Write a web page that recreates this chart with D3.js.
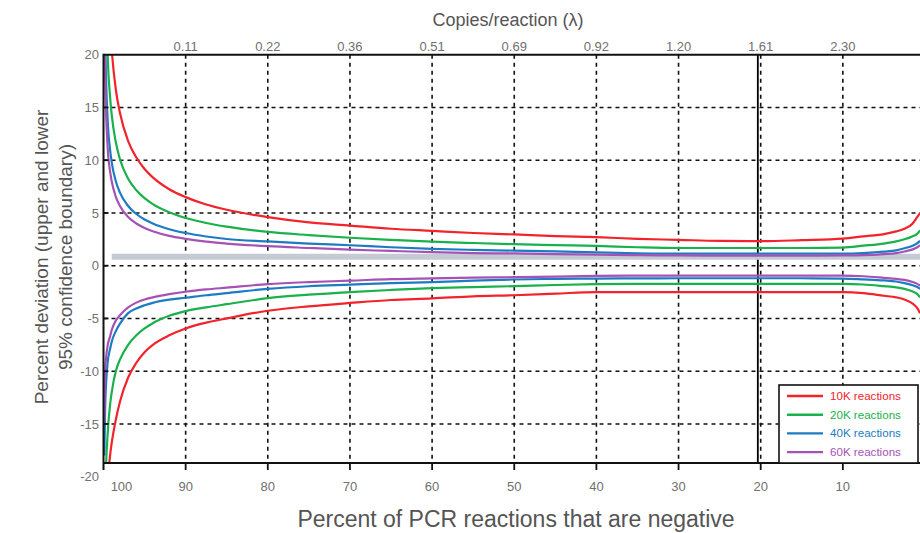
<!DOCTYPE html>
<html><head><meta charset="utf-8">
<script src="https://cdn.jsdelivr.net/npm/d3@7"></script>
<style>
body{margin:0;background:#fff;}
svg{display:block;font-family:"Liberation Sans",Arial,Helvetica,sans-serif;}
</style>
</head><body>
<svg id="chart" width="920" height="533"></svg>
<script>
// ---- data ----
const pctNeg = [99.9, 99.8, 99.5, 99.2, 99, 98.5, 98, 97, 96, 95, 94, 92, 90, 87.5, 85, 80, 75, 70, 65, 60, 55, 50, 45, 40, 35, 30, 25, 20, 15, 10, 7.5, 5, 3.5, 2.5, 1.5, 1, 0.6];

const upper10K = [65, 46, 29, 23, 20.5, 16.7, 14.5, 11.8, 10.25, 9.17, 8.37, 7.25, 6.5, 5.8, 5.3, 4.6, 4.1, 3.8, 3.5, 3.3, 3.1, 2.96, 2.8, 2.7, 2.55, 2.45, 2.35, 2.32, 2.42, 2.56, 2.78, 3.0, 3.25, 3.5, 4.0, 4.55, 5.0];
const upper20K = [45, 32, 20.2, 16, 14.3, 11.7, 10.1, 8.25, 7.15, 6.4, 5.84, 5.06, 4.52, 4.05, 3.7, 3.2, 2.9, 2.65, 2.45, 2.28, 2.15, 2.04, 1.95, 1.87, 1.75, 1.68, 1.68, 1.68, 1.68, 1.72, 1.9, 2.1, 2.3, 2.5, 2.8, 3.0, 3.35];
const upper40K = [31, 21.9, 13.9, 11, 9.8, 8.0, 6.93, 5.66, 4.9, 4.38, 4.0, 3.46, 3.1, 2.77, 2.53, 2.3, 2.1, 1.94, 1.75, 1.6, 1.5, 1.43, 1.35, 1.26, 1.18, 1.14, 1.14, 1.14, 1.14, 1.14, 1.2, 1.33, 1.45, 1.65, 1.9, 2.1, 2.35];
const upper60K = [25, 17.9, 11.3, 8.95, 8.0, 6.53, 5.66, 4.62, 4.0, 3.58, 3.27, 2.83, 2.55, 2.28, 2.1, 1.85, 1.68, 1.52, 1.4, 1.28, 1.2, 1.16, 1.1, 1.05, 1.0, 0.97, 0.95, 0.95, 0.95, 0.97, 1.0, 1.1, 1.2, 1.35, 1.55, 1.72, 1.95];

const lower10K = [-42, -31, -21, -18, -16.8, -14.6, -12.9, -10.6, -9.2, -8.2, -7.5, -6.6, -5.95, -5.4, -5.0, -4.27, -3.85, -3.53, -3.25, -3.1, -2.9, -2.8, -2.65, -2.5, -2.5, -2.5, -2.5, -2.5, -2.5, -2.5, -2.6, -2.85, -3.0, -3.2, -3.6, -3.95, -4.5];
const lower20K = [-30, -22, -16, -13.2, -12, -10, -8.9, -7.5, -6.6, -5.95, -5.45, -4.75, -4.3, -3.95, -3.65, -3.08, -2.75, -2.5, -2.3, -2.13, -2.03, -1.94, -1.83, -1.75, -1.72, -1.72, -1.72, -1.72, -1.72, -1.72, -1.78, -1.94, -2.05, -2.2, -2.45, -2.65, -3.0];
const lower40K = [-18, -13.5, -9.2, -7.9, -7.2, -6.2, -5.5, -4.5, -4.05, -3.75, -3.52, -3.22, -3.04, -2.8, -2.6, -2.2, -1.95, -1.8, -1.65, -1.55, -1.42, -1.31, -1.25, -1.22, -1.2, -1.19, -1.19, -1.19, -1.19, -1.22, -1.3, -1.4, -1.5, -1.65, -1.85, -2.0, -2.2];
const lower60K = [-15, -10, -7.6, -6.7, -6.1, -5.2, -4.7, -3.95, -3.5, -3.2, -3.0, -2.7, -2.47, -2.25, -2.08, -1.74, -1.55, -1.42, -1.27, -1.2, -1.13, -1.09, -1.03, -0.97, -0.94, -0.94, -0.94, -0.94, -0.94, -0.94, -1.0, -1.15, -1.25, -1.35, -1.55, -1.7, -1.9];

const seriesNames = ["10K reactions", "20K reactions", "40K reactions", "60K reactions"];
const seriesColors = ["#f2232b", "#19b14b", "#1b7cc2", "#a652b4"];

const xTicks = [90, 80, 70, 60, 50, 40, 30, 20, 10];
const xTickLabels = ["90", "80", "70", "60", "50", "40", "30", "20", "10"];
const lambdaLabels = ["0.11", "0.22", "0.36", "0.51", "0.69", "0.92", "1.20", "1.61", "2.30"];
const yTicks = [20, 15, 10, 5, 0, -5, -10, -15, -20];
const yGrid = [15, 10, 5, 0, -5, -10, -15];
const bandLevel = 0.85;
const bandStartPct = 99;
const markerPct = 20.35;

// ---- layout ----
const W = 920, H = 533;
const plotLeft = 103.5, plotTop = 54.7, plotBottom = 463;
const x = d3.scaleLinear().domain([100, 0]).range([103.5, 925]);
const y = d3.scaleLinear().domain([20, -20]).range([54.7, 476.7]);

const svg = d3.select("#chart");
const tickColor = "#707070", titleColor = "#555";

svg.append("defs").append("clipPath").attr("id", "clip")
  .append("rect").attr("x", plotLeft).attr("y", plotTop)
  .attr("width", W - plotLeft).attr("height", plotBottom - plotTop);

// grid
const grid = svg.append("g");
grid.selectAll("line.v").data(xTicks).join("line")
  .attr("x1", d => x(d)).attr("x2", d => x(d))
  .attr("y1", plotTop).attr("y2", plotBottom)
  .attr("stroke", "#111").attr("stroke-width", 1.6).attr("stroke-dasharray", "4,4");
grid.selectAll("line.h").data(yGrid).join("line")
  .attr("x1", plotLeft).attr("x2", W)
  .attr("y1", d => y(d)).attr("y2", d => y(d))
  .attr("stroke", "#111").attr("stroke-width", 1.6).attr("stroke-dasharray", "4,4");

// solid marker line
svg.append("line")
  .attr("x1", x(markerPct)).attr("x2", x(markerPct))
  .attr("y1", plotTop).attr("y2", plotBottom)
  .attr("stroke", "#000").attr("stroke-width", 1.8);

// gray band
svg.append("line")
  .attr("x1", x(bandStartPct)).attr("x2", W)
  .attr("y1", y(bandLevel)).attr("y2", y(bandLevel))
  .attr("stroke", "#c4cbd5").attr("stroke-width", 6);

// curves
const uppers = [upper10K, upper20K, upper40K, upper60K];
const lowers = [lower10K, lower20K, lower40K, lower60K];
const line = d3.line().x(d => x(d[0])).y(d => y(d[1])).curve(d3.curveMonotoneX);
const curves = svg.append("g").attr("clip-path", "url(#clip)");
seriesNames.forEach((name, i) => {
  [uppers[i], lowers[i]].forEach(vals => {
    const pts = pctNeg.map((p, j) => [p, vals[j]]);
    curves.append("path").datum(pts)
      .attr("d", line).attr("fill", "none")
      .attr("stroke", seriesColors[i]).attr("stroke-width", 2.2)
      .attr("stroke-linejoin", "round");
  });
});

// axes frame
svg.append("line").attr("x1", plotLeft).attr("x2", W).attr("y1", plotTop).attr("y2", plotTop)
  .attr("stroke", "#111").attr("stroke-width", 2);
svg.append("line").attr("x1", plotLeft).attr("x2", W).attr("y1", plotBottom).attr("y2", plotBottom)
  .attr("stroke", "#111").attr("stroke-width", 2);
svg.append("line").attr("x1", plotLeft).attr("x2", plotLeft).attr("y1", plotTop - 1).attr("y2", plotBottom + 7)
  .attr("stroke", "#111").attr("stroke-width", 2);

// y ticks + labels
svg.selectAll("line.yt").data(yTicks.filter(d => d > -20 && d < 20)).join("line")
  .attr("x1", plotLeft).attr("x2", plotLeft + 5)
  .attr("y1", d => y(d)).attr("y2", d => y(d))
  .attr("stroke", "#111").attr("stroke-width", 1.8);
svg.selectAll("text.yl").data(yTicks).join("text")
  .attr("x", 99).attr("y", d => y(d)).attr("dy", "0.35em")
  .attr("text-anchor", "end").attr("font-size", 13).attr("fill", tickColor)
  .text(d => d);

// bottom ticks + labels
svg.selectAll("line.xt").data(xTicks).join("line")
  .attr("x1", d => x(d)).attr("x2", d => x(d))
  .attr("y1", plotBottom).attr("y2", plotBottom + 7)
  .attr("stroke", "#111").attr("stroke-width", 1.8);
svg.selectAll("text.xl").data(xTicks).join("text")
  .attr("x", d => x(d)).attr("y", 491)
  .attr("text-anchor", "middle").attr("font-size", 13).attr("fill", tickColor)
  .text((d, i) => xTickLabels[i]);
svg.append("text").attr("x", x(100) + 18).attr("y", 491)
  .attr("text-anchor", "middle").attr("font-size", 13).attr("fill", tickColor).text("100");

// top labels
svg.selectAll("text.tl").data(xTicks).join("text")
  .attr("x", d => x(d)).attr("y", 51)
  .attr("text-anchor", "middle").attr("font-size", 13).attr("fill", tickColor)
  .text((d, i) => lambdaLabels[i]);

// titles
svg.append("text").attr("x", 508).attr("y", 26).attr("text-anchor", "middle")
  .attr("font-size", 18).attr("fill", titleColor).text("Copies/reaction (λ)");
svg.append("text").attr("x", 516).attr("y", 527).attr("text-anchor", "middle")
  .attr("font-size", 23).attr("fill", titleColor).text("Percent of PCR reactions that are negative");
const yt = svg.append("text").attr("transform", "translate(48,257) rotate(-90)")
  .attr("text-anchor", "middle").attr("font-size", 19).attr("fill", titleColor);
yt.append("tspan").attr("x", 0).attr("y", 0).text("Percent deviation (upper and lower");
yt.append("tspan").attr("x", 0).attr("y", 24).text("95% confidence boundary)");

// legend
const lg = svg.append("g");
lg.append("rect").attr("x", 779).attr("y", 385).attr("width", 139).attr("height", plotBottom - 385)
  .attr("fill", "#fff").attr("stroke", "#111").attr("stroke-width", 1.6);
seriesNames.forEach((name, i) => {
  const ly = 396 + i * 18.7;
  lg.append("line").attr("x1", 787).attr("x2", 823).attr("y1", ly).attr("y2", ly)
    .attr("stroke", seriesColors[i]).attr("stroke-width", 2.4);
  lg.append("text").attr("x", 830).attr("y", ly).attr("dy", "0.35em")
    .attr("font-size", 11.6).attr("fill", seriesColors[i]).text(name);
});
</script>
</body></html>
